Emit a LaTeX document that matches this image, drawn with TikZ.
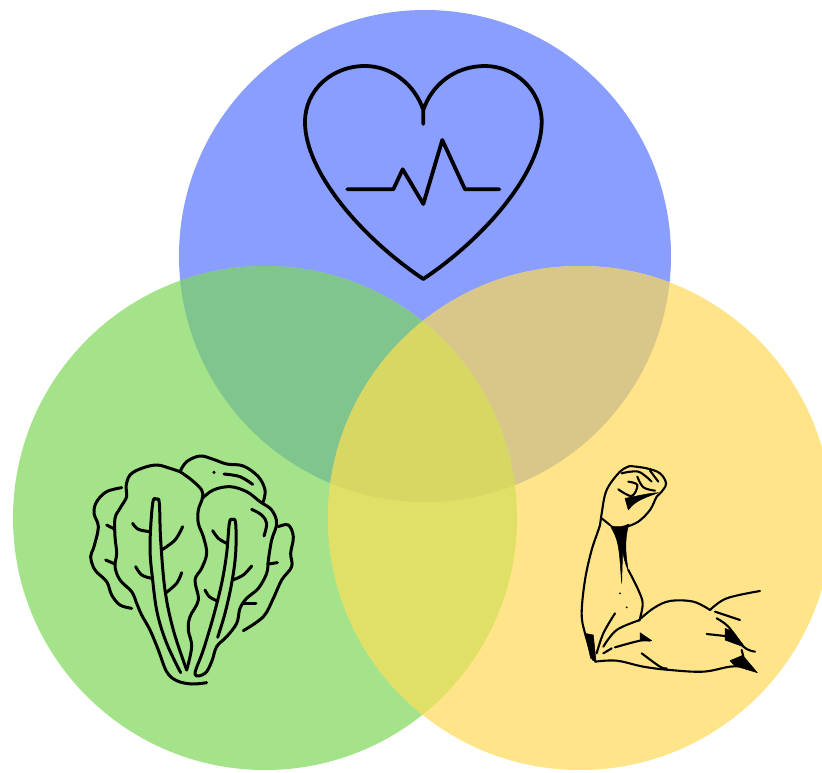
\documentclass[tikz,border=0pt]{standalone}
\definecolor{cblue}{HTML}{8A9EFF}
\definecolor{cgreen}{HTML}{A5E38A}
\definecolor{cyellow}{HTML}{FFE48A}
\definecolor{cgb}{HTML}{80C48E}
\definecolor{cyb}{HTML}{D9C78A}
\definecolor{cgy}{HTML}{E0DF66}
\definecolor{cgyb}{HTML}{D7D763}
\tikzset{
 ink/.style={draw=black,line width=#1,line cap=round,line join=round},
 ink/.default=2.6pt,
 heartline/.style={ink=3.8pt},
 leaf/.style={ink=3pt},
 armline/.style={ink=2.1pt},
 armfill/.style={fill=black,draw=black,line width=.5pt,line join=round},
}
\newcommand{\cblue}{(425,256) circle[radius=246]}
\newcommand{\cgrn}{(265,518) circle[radius=252]}
\newcommand{\cyel}{(580,518) circle[radius=252]}
\newcommand{\sm}[2][leaf]{\draw[#1] plot[smooth,tension=.6] coordinates {#2};}
\begin{document}
\begin{tikzpicture}[x=1pt,y=-1pt]
\clip (0,0) rectangle (822,773);
\fill[white] (0,0) rectangle (822,773);
% circles
\fill[cblue] \cblue;
\fill[cgreen] \cgrn;
\fill[cyellow] \cyel;
\begin{scope}\clip \cblue; \fill[cgb] \cgrn; \fill[cyb] \cyel; \end{scope}
\begin{scope}\clip \cgrn; \fill[cgy] \cyel; \end{scope}
\begin{scope}\clip \cblue; \clip \cgrn; \fill[cgyb] \cyel; \end{scope}
% heart
\draw[heartline] (423.3,124) -- (423.3,110) .. controls (415,85) and (392,66) .. (365,66)
  .. controls (332,66) and (305,90) .. (305,122)
  .. controls (305,172) and (362,238) .. (423.3,279)
  .. controls (484.6,238) and (541.7,172) .. (541.7,122)
  .. controls (541.7,90) and (514.6,66) .. (485,66)
  .. controls (454.6,66) and (431.6,85) .. (423.3,110);
\draw[heartline] (347.3,189.3) -- (393.3,189.3) -- (402.7,169.3) -- (423.3,204) -- (442.3,140) -- (465,189.3) -- (499.3,189.3);
% lettuce
\begin{scope}[shift={(70,440)},scale=1/3]
\sm{(330,95)(300,85)(260,75)(215,85)(180,105)(168,140)(170,170)(150,205)(135,235)(135,290)(140,340)(135,380)(150,420)(185,455)(200,490)(215,525)(240,570)(265,630)(290,695)(320,722)(365,732)(410,728)}
\sm{(330,95)(365,120)(395,150)(397,175)(385,210)(385,250)(400,290)(410,340)(395,385)(375,420)(385,480)(360,530)(355,570)(365,620)(350,690)}
\sm{(330,95)(350,65)(390,48)(430,58)(470,72)(520,78)(565,110)(585,150)(580,185)}
\fill (432,97) circle[radius=5];
\sm{(462,102)(510,110)(548,133)}
\sm{(397,175)(430,150)(480,140)(530,155)(570,185)(605,210)(620,250)(605,300)(595,360)(590,400)(565,445)(530,475)(510,505)(500,550)(470,590)(440,620)(425,665)(405,700)(375,702)(400,630)(430,530)(455,430)(470,340)(478,250)(487,238)(497,250)(497,340)(485,430)(465,520)(443,592)}
\sm{(332,698)(290,610)(262,520)(248,420)(240,320)(248,190)(260,178)(268,190)(272,300)(285,450)(310,570)(350,690)}
\sm{(188,250)(205,268)(240,275)}
\sm{(338,260)(315,300)(275,330)}
\sm{(197,380)(215,405)(245,415)}
\sm{(335,398)(320,430)(288,458)}
\sm{(428,272)(445,295)(470,310)}
\sm{(545,378)(520,405)(488,420)}
\sm{(405,450)(418,470)(440,482)}
\sm{(625,260)(655,255)(670,290)(662,340)(665,380)(635,420)(610,475)(580,530)(520,572)}
\sm{(595,372)(622,368)}
\sm{(520,490)(558,490)}
\sm{(545,208)(575,225)(590,250)(582,288)}
\sm{(155,143)(110,155)(80,185)(72,220)(85,260)(72,320)(62,350)(75,390)(110,425)(125,465)(150,495)(185,505)}
\sm{(110,255)(135,268)}
\sm{(107,360)(135,372)}
\end{scope}
% arm
\begin{scope}[shift={(560,450)},scale=1/3]
\sm[armline]{(210,48)(180,65)(140,120)(125,190)(120,225)(95,300)(75,390)(65,490)(75,550)(100,630)}
\sm[armline]{(105,635)(170,632)(250,650)(330,660)(430,665)(510,650)(560,650)}
\sm[armline]{(210,48)(260,55)(300,70)(318,100)(305,125)(290,140)(270,180)(235,215)(200,230)}
\sm[armline]{(185,70)(235,65)(275,95)}
\sm[armline]{(175,118)(215,138)(232,105)(205,95)}
\sm[armline]{(232,80)(250,112)(285,122)}
\sm[armline]{(270,62)(295,95)}
\sm[armline]{(125,205)(150,225)}
\fill[armfill] (195,145) .. controls (225,140) and (260,130) .. (295,128) .. controls (265,140) and (225,150) .. (205,180) -- cycle;
\fill[armfill] (150,225) .. controls (170,235) and (190,230) .. (207,222) .. controls (198,250) and (192,290) .. (205,362) .. controls (195,340) and (190,320) .. (188,300) -- (185,400) .. controls (180,340) and (180,290) .. (165,255) -- cycle;
\sm[armline]{(205,360)(235,420)(248,460)(240,505)}
\sm[armline]{(235,512)(280,475)(330,453)(400,455)(450,480)}
\sm[armline]{(450,480)(500,445)(600,423)}
\sm[armline]{(465,485)(540,510)}
\sm[armline]{(470,505)(505,530)(550,590)(585,605)}
\fill[armfill] (495,535) -- (520,545) -- (555,592) -- (495,570) -- cycle;
\sm[armline]{(440,552)(495,558)}
\fill[armfill] (510,632) -- (548,616) -- (592,668) -- (525,648) -- cycle;
\sm[armline]{(545,600)(550,620)}
\sm[armline]{(240,510)(170,540)(130,590)}
\sm[armline]{(165,490)(130,550)(110,610)}
\draw[armline] (130,610) -- (155,595);
\sm[armline]{(165,592)(240,572)(270,572)}
\fill[armfill] (240,548) -- (275,572) -- (240,570) -- cycle;
\sm[armline]{(245,610)(300,650)(320,655)}
\fill[armfill] (75,550) -- (100,555) -- (108,634) -- (92,625) -- cycle;
\fill (180,430) circle[radius=3];
\fill (200,472) circle[radius=3];
\end{scope}
\end{tikzpicture}
\end{document}
